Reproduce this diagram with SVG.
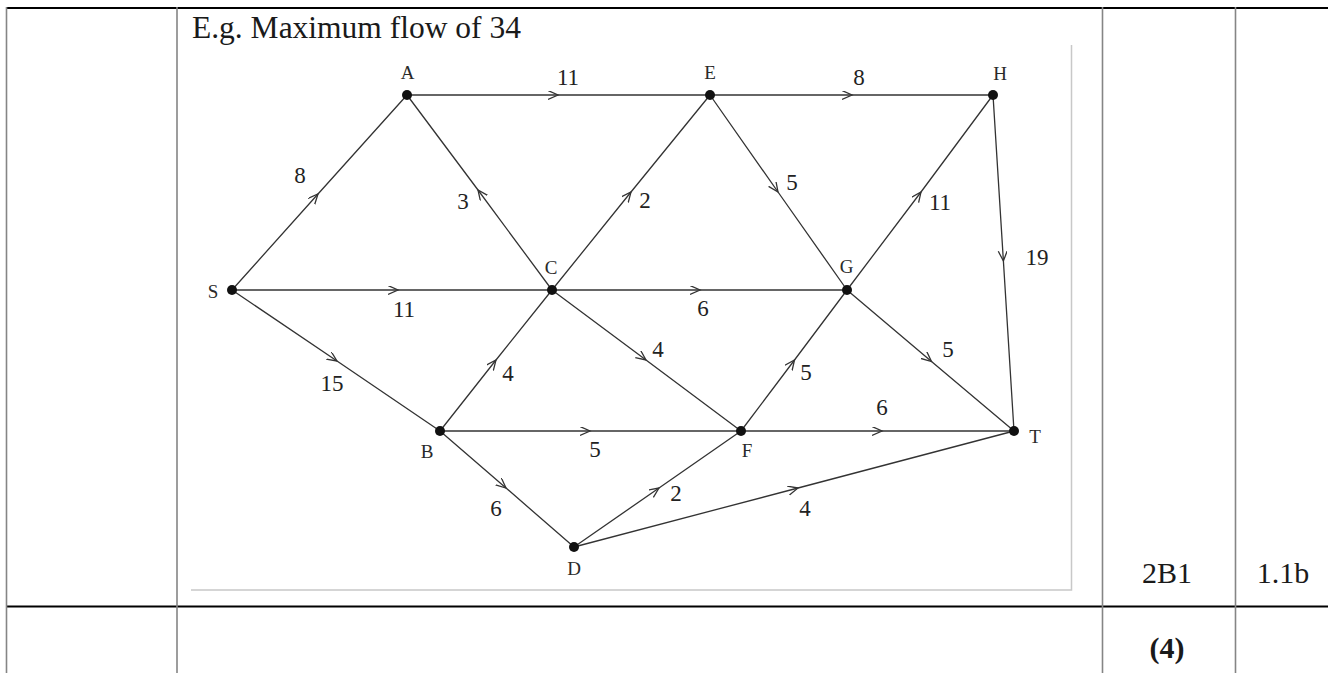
<svg xmlns="http://www.w3.org/2000/svg" width="1328" height="673" viewBox="0 0 1328 673">
<style>
.tbl{font-family:"Liberation Serif","Times New Roman",serif;fill:#1a1a1a;}
.nl{font-family:"Liberation Serif","Times New Roman",serif;font-size:19px;fill:#2a2a2a;text-anchor:middle;}
.el{font-family:"Liberation Serif","Times New Roman",serif;font-size:23px;fill:#222;text-anchor:middle;}
.edge{fill:none;stroke:#333;stroke-width:1.3;marker-mid:url(#chev);}
.dot{fill:#111;}
</style>
<defs>
<marker id="chev" viewBox="0 0 12 10" refX="10" refY="4.5" markerWidth="12" markerHeight="10" markerUnits="userSpaceOnUse" orient="auto">
<path d="M0,0 L10,4.5 L0,9" fill="none" stroke="#333" stroke-width="1.3"/>
</marker>
</defs>
<rect width="1328" height="673" fill="#fff"/>
<g id="table">
<line x1="6.5" y1="8" x2="1328" y2="8" stroke="#000" stroke-width="2.2"/>
<line x1="6.5" y1="606.5" x2="1328" y2="606.5" stroke="#000" stroke-width="2.2"/>
<g stroke="#858585" stroke-width="1.6">
<line x1="6.5" y1="7" x2="6.5" y2="673"/>
<line x1="177" y1="7" x2="177" y2="673"/>
<line x1="1102.5" y1="7" x2="1102.5" y2="673"/>
<line x1="1235.5" y1="7" x2="1235.5" y2="673"/>
</g>
<text class="tbl" x="192" y="37.5" font-size="31.5">E.g. Maximum flow of 34</text>
<text class="tbl" x="1167" y="583" font-size="30" text-anchor="middle">2B1</text>
<text class="tbl" x="1283" y="583" font-size="30" text-anchor="middle">1.1b</text>
<text class="tbl" x="1167" y="658" font-size="30" font-weight="bold" text-anchor="middle">(4)</text>
</g>
<g id="frame" stroke="#c8c8c8" stroke-width="1.5" fill="none">
<polyline points="1071.5,45 1071.5,590 191,590"/>
</g>
<g id="connectors">
<path class="edge" d="M232,290 L318,194 L407,95"/>
<path class="edge" d="M552,290 L478,190 L407,95"/>
<path class="edge" d="M407,95 L558,95 L710,95"/>
<path class="edge" d="M710,95 L852,95 L993,95"/>
<path class="edge" d="M552,290 L631,192 L710,95"/>
<path class="edge" d="M710,95 L778,192 L847,290"/>
<path class="edge" d="M847,290 L921,192 L993,95"/>
<path class="edge" d="M993,95 L1003.4,261 L1014,431"/>
<path class="edge" d="M232,290 L398,290 L552,290"/>
<path class="edge" d="M552,290 L700,290 L847,290"/>
<path class="edge" d="M232,290 L337,361 L440,431"/>
<path class="edge" d="M440,431 L496,360 L552,290"/>
<path class="edge" d="M552,290 L646,360 L741,431"/>
<path class="edge" d="M741,431 L794.5,360 L847,290"/>
<path class="edge" d="M847,290 L931.5,361.5 L1014,431"/>
<path class="edge" d="M440,431 L590,431 L741,431"/>
<path class="edge" d="M741,431 L882,431 L1014,431"/>
<path class="edge" d="M440,431 L506,488 L574,547"/>
<path class="edge" d="M574,547 L659,488 L741,431"/>
<path class="edge" d="M574,547 L798,488 L1014,431"/>
</g>
<g id="edge-labels">
<text class="el" x="300" y="182.5">8</text>
<text class="el" x="463" y="209">3</text>
<text class="el" x="568" y="85">11</text>
<text class="el" x="859" y="85">8</text>
<text class="el" x="645" y="208">2</text>
<text class="el" x="792" y="190">5</text>
<text class="el" x="940" y="210">11</text>
<text class="el" x="1037" y="265">19</text>
<text class="el" x="404" y="316.5">11</text>
<text class="el" x="703" y="316">6</text>
<text class="el" x="332" y="390.5">15</text>
<text class="el" x="508" y="380.5">4</text>
<text class="el" x="658" y="356.5">4</text>
<text class="el" x="806" y="380">5</text>
<text class="el" x="948" y="356.5">5</text>
<text class="el" x="595" y="456.5">5</text>
<text class="el" x="882" y="415">6</text>
<text class="el" x="496" y="515.5">6</text>
<text class="el" x="676" y="501">2</text>
<text class="el" x="805" y="515.5">4</text>
</g>
<g id="node-S"><circle class="dot" cx="232" cy="290" r="5"/><text class="nl" x="213" y="298">S</text></g>
<g id="node-A"><circle class="dot" cx="407" cy="95" r="5"/><text class="nl" x="407.5" y="79">A</text></g>
<g id="node-E"><circle class="dot" cx="710" cy="95" r="5"/><text class="nl" x="710" y="79">E</text></g>
<g id="node-H"><circle class="dot" cx="993" cy="95" r="5"/><text class="nl" x="1000" y="80">H</text></g>
<g id="node-C"><circle class="dot" cx="552" cy="290" r="5"/><text class="nl" x="551" y="274">C</text></g>
<g id="node-G"><circle class="dot" cx="847" cy="290" r="5"/><text class="nl" x="846.5" y="273">G</text></g>
<g id="node-B"><circle class="dot" cx="440" cy="431" r="5"/><text class="nl" x="427" y="458">B</text></g>
<g id="node-F"><circle class="dot" cx="741" cy="431" r="5"/><text class="nl" x="747" y="457">F</text></g>
<g id="node-T"><circle class="dot" cx="1014" cy="431" r="5"/><text class="nl" x="1035" y="443">T</text></g>
<g id="node-D"><circle class="dot" cx="574" cy="547" r="5"/><text class="nl" x="574" y="575">D</text></g>
</svg>
